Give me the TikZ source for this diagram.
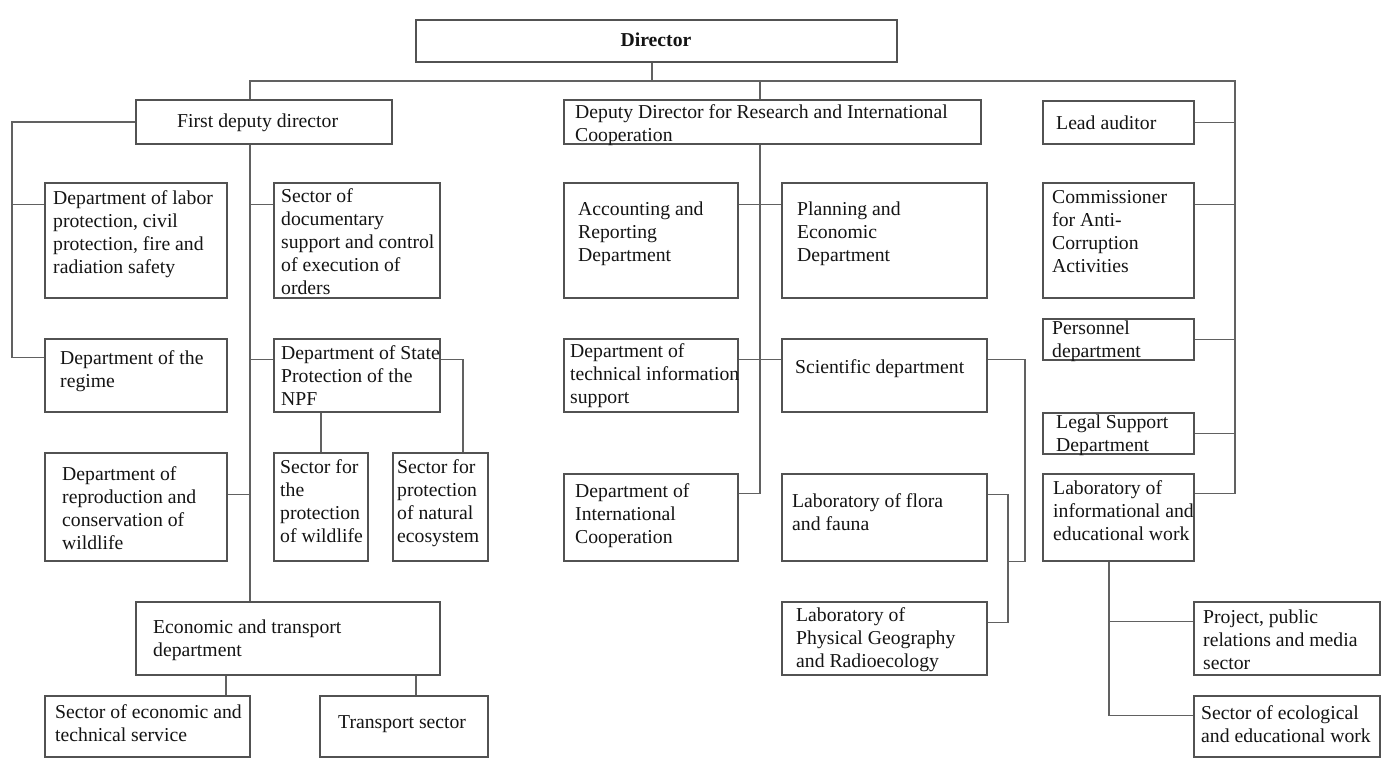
\documentclass[tikz,border=0pt]{standalone}
\usepackage{fontspec}
\setmainfont{Liberation Serif}
\usetikzlibrary{calc}
\tikzset{
  bx/.style={draw=black!68, line width=1.3pt, inner sep=0pt, fill=white},
  tx/.style={inner sep=0pt, align=left, font=\fontsize{19.7}{23}\selectfont, text=black!92},
  ln/.style={draw=black!62, line width=1.2pt},
}
\newcommand\bx[5]{\node[bx, minimum width={(#4-#2)*1pt}, minimum height={(#5-#3)*1pt}] (#1) at ({(#2+#4)/2},{(#3+#5)/2}) {};}
% #2 = x, #3 = baseline of first line, #4 = number of lines
\newcommand\tx[5]{\node[tx, anchor=base west] (#1-t) at (#2,{#3+23*(#4-1)}) {#5};}
\begin{document}
\begin{tikzpicture}[x=1pt,y=-1pt]
\useasboundingbox[fill=white] (0,0) rectangle (1381,778);

% boxes
\bx{dir}{416}{20}{897}{62}
\bx{fdd}{136}{100}{392}{144}
\bx{dd}{564}{100}{981}{144}
\bx{lead}{1043}{101}{1194}{144}
\bx{labor}{45}{183}{227}{298}
\bx{doc}{274}{183}{440}{298}
\bx{acc}{564}{183}{738}{298}
\bx{plan}{782}{183}{987}{298}
\bx{comm}{1043}{183}{1194}{298}
\bx{reg}{45}{339}{227}{412}
\bx{npf}{274}{339}{440}{412}
\bx{tech}{564}{339}{738}{412}
\bx{sci}{782}{339}{987}{412}
\bx{pers}{1043}{319}{1194}{360}
\bx{legal}{1043}{413}{1194}{454}
\bx{repr}{45}{453}{227}{561}
\bx{wild}{274}{453}{368}{561}
\bx{eco}{393}{453}{488}{561}
\bx{intl}{564}{474}{738}{561}
\bx{flora}{782}{474}{987}{561}
\bx{info}{1043}{474}{1194}{561}
\bx{econ}{136}{602}{440}{675}
\bx{phys}{782}{602}{987}{675}
\bx{proj}{1194}{602}{1380}{675}
\bx{set}{45}{696}{250}{757}
\bx{trans}{320}{696}{488}{757}
\bx{ecol}{1194}{696}{1380}{757}

% trunk and junction coordinates
\coordinate (tL) at (250,81);
\coordinate (tD) at (652,81);
\coordinate (tM) at (760,81);
\coordinate (tR) at (1235,81);
\coordinate (xL) at (12,0);
\coordinate (xS) at (1025,0);
\coordinate (xF) at (1008,0);
\coordinate (xN) at (463,0);
\coordinate (xE1) at (226,0);
\coordinate (xE2) at (416,0);
\coordinate (xI) at (1109,0);
\coordinate (pInfo) at ($(info.north east)+(0,20)$);
\coordinate (pIntl) at ($(intl.north east)+(0,20)$);
\coordinate (pAcc) at ($(acc.north east)+(0,22)$);
\coordinate (pPlan) at ($(plan.north west)+(0,22)$);
\coordinate (pTech) at ($(tech.north east)+(0,21)$);
\coordinate (pSciW) at ($(sci.north west)+(0,21)$);
\coordinate (pSciE) at ($(sci.north east)+(0,21)$);
\coordinate (pFlora) at ($(flora.north east)+(0,21)$);
\coordinate (pPhys) at ($(phys.north east)+(0,21)$);
\coordinate (pReg) at ($(reg.north west)+(0,19)$);
\coordinate (pLabor) at ($(labor.north west)+(0,22)$);
\coordinate (pDoc) at ($(doc.north west)+(0,22)$);
\coordinate (pNpfW) at ($(npf.north west)+(0,21)$);
\coordinate (pNpfE) at ($(npf.north east)+(0,21)$);
\coordinate (pRepr) at ($(repr.north east)+(0,42)$);
\coordinate (pComm) at ($(comm.north east)+(0,22)$);
\coordinate (pProj) at ($(proj.north west)+(0,20)$);
\coordinate (pEcol) at ($(ecol.north west)+(0,20)$);

% connectors
\draw[ln] (tD |- dir.south) -- (tD);
\draw[ln] (tL |- fdd.north) -- (tL) -- (tR) -- (tR |- pInfo) -- (pInfo);
\draw[ln] (tM) -- (tM |- dd.north);
\draw[ln] (tM |- dd.south) -- (tM |- pIntl) -- (pIntl);
\draw[ln] (pAcc) -- (pPlan);
\draw[ln] (pTech) -- (pSciW);
\draw[ln] (pSciE) -- (xS |- pSciE) -- (xS |- flora.south) -- (xF |- flora.south);
\draw[ln] (pFlora) -- (xF |- pFlora) -- (xF |- pPhys) -- (pPhys);
\draw[ln] (fdd.west) -- (xL |- fdd.west) -- (xL |- pReg) -- (pReg);
\draw[ln] (xL |- pLabor) -- (pLabor);
\draw[ln] (tL |- fdd.south) -- (tL |- econ.north);
\draw[ln] (tL |- pDoc) -- (pDoc);
\draw[ln] (tL |- pNpfW) -- (pNpfW);
\draw[ln] (pRepr) -- (tL |- pRepr);
\draw[ln] (pNpfE) -- (xN |- pNpfE) -- (xN |- eco.north);
\draw[ln] (wild.north |- npf.south) -- (wild.north);
\draw[ln] (xE1 |- econ.south) -- (xE1 |- set.north);
\draw[ln] (xE2 |- econ.south) -- (xE2 |- trans.north);
\draw[ln] (lead.east) -- (tR |- lead.east);
\draw[ln] (pComm) -- (tR |- pComm);
\draw[ln] (pers.east) -- (tR |- pers.east);
\draw[ln] (legal.east) -- (tR |- legal.east);
\draw[ln] (xI |- info.south) -- (xI |- pEcol) -- (pEcol);
\draw[ln] (xI |- pProj) -- (pProj);

% texts
\node[tx, anchor=base, font=\fontsize{19.7}{23}\selectfont\bfseries] (dir-t) at (656,47) {Director};
\tx{fdd}{177}{128}{1}{First deputy director}
\tx{dd}{575}{119}{2}{Deputy Director for Research and International\\Cooperation}
\tx{lead}{1056}{130}{1}{Lead auditor}
\tx{labor}{53}{204}{4}{Department of labor\\protection, civil\\protection, fire and\\radiation safety}
\tx{doc}{281}{202}{5}{Sector of\\documentary\\support and control\\of execution of\\orders}
\tx{acc}{578}{215}{3}{Accounting and\\Reporting\\Department}
\tx{plan}{797}{215}{3}{Planning and\\Economic\\Department}
\tx{comm}{1052}{203}{4}{Commissioner\\for Anti-\\Corruption\\Activities}
\tx{reg}{60}{364}{2}{Department of the\\regime}
\tx{npf}{281}{359}{3}{Department of State\\Protection of the\\NPF}
\tx{tech}{570}{357}{3}{Department of\\technical information\\support}
\tx{sci}{795}{373}{1}{Scientific department}
\tx{pers}{1052}{334}{2}{Personnel\\department}
\tx{legal}{1056}{428}{2}{Legal Support\\Department}
\tx{repr}{62}{480}{4}{Department of\\reproduction and\\conservation of\\wildlife}
\tx{wild}{280}{473}{4}{Sector for\\the\\protection\\of wildlife}
\tx{eco}{397}{473}{4}{Sector for\\protection\\of natural\\ecosystem}
\tx{intl}{575}{497}{3}{Department of\\International\\Cooperation}
\tx{flora}{792}{507}{2}{Laboratory of flora\\and fauna}
\tx{info}{1053}{494}{3}{Laboratory of\\informational and\\educational work}
\tx{econ}{153}{633}{2}{Economic and transport\\department}
\tx{phys}{796}{621}{3}{Laboratory of\\Physical Geography\\and Radioecology}
\tx{proj}{1203}{623}{3}{Project, public\\relations and media\\sector}
\tx{set}{55}{718}{2}{Sector of economic and\\technical service}
\tx{trans}{338}{728}{1}{Transport sector}
\tx{ecol}{1201}{719}{2}{Sector of ecological\\and educational work}
\end{tikzpicture}
\end{document}
